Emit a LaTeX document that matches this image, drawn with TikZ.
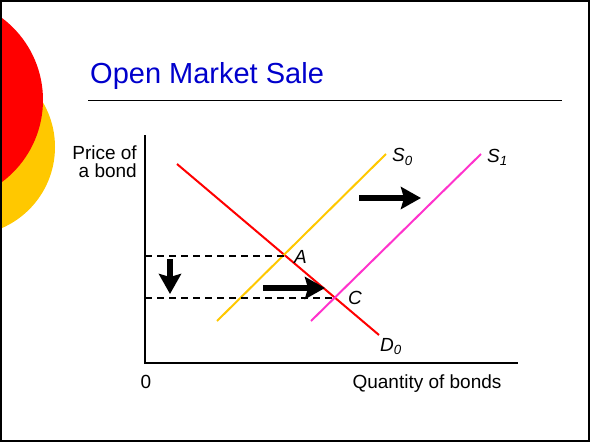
\documentclass[tikz,border=0pt]{standalone}
\usepackage{fontspec}
\setmainfont{Liberation Sans}
\usetikzlibrary{arrows.meta}
\definecolor{titleblue}{RGB}{0,0,204}
\definecolor{sred}{RGB}{255,0,0}
\definecolor{syellow}{RGB}{255,200,0}
\definecolor{smagenta}{RGB}{255,51,204}
\tikzset{
  lbl/.style={font=\fontsize{19}{19}\selectfont, inner sep=0pt},
  curvelabel/.style={font=\fontsize{19}{19}\selectfont\itshape, inner sep=0pt},
  curve/.style={line width=2pt},
  guide/.style={line width=1.2pt, dash pattern=on 7pt off 5pt},
  bigarrow/.style={line width=6.5pt, -{Stealth[length=20pt,width=22pt,inset=3pt]}},
  axis/.style={line width=1.4pt}
}
\begin{document}
\begin{tikzpicture}[x=1pt,y=-1pt]
\useasboundingbox (0,0) rectangle (590,442);
\begin{scope}
  \clip (0,0) rectangle (590,442);
  \fill[syellow] (-33.4,147) circle (88.4);
  \fill[sred] (-59.5,100) circle (102.5);
\end{scope}
\draw[line width=2.4pt] (1.2,1.2) rectangle (588.8,440.8);
% title
\node[anchor=base west, inner sep=0pt, text=titleblue, font=\fontsize{29}{29}\selectfont] (title) at (90,83) {Open Market Sale};
\coordinate (ulL) at (88,100);
\coordinate (ulR) at (562,100);
\draw[line width=1pt] (ulL) -- (ulR);
% axes
\coordinate (yTop) at (145,135);
\coordinate (orig) at (145,363);
\coordinate (xEnd) at (518,363);
\draw[axis] (yTop) -- (orig) -- (xEnd);
\node[lbl, anchor=base east, align=right] (plabel1) at (137,159) {Price of};
\node[lbl, anchor=base east] (plabel2) at (137,177) {a bond};
\node[lbl, anchor=base] (zero) at (146,388) {0};
\node[lbl, anchor=base] (qlabel) at (427,388) {Quantity of bonds};
% curves
\coordinate (d0a) at (177,164);
\coordinate (d0b) at (379,335);
\coordinate (s0a) at (217,321);
\coordinate (s0b) at (386,154);
\coordinate (s1a) at (311,321);
\coordinate (s1b) at (481,154);
\draw[curve, sred] (d0a) -- (d0b);
\draw[curve, syellow] (s0a) -- (s0b);
\draw[curve, smagenta] (s1a) -- (s1b);
\node[curvelabel, anchor=west] (S0) at (392,157) {S\textsubscript{0}};
\node[curvelabel, anchor=west] (S1) at (487,157) {S\textsubscript{1}};
\node[curvelabel, anchor=north] (D0) at (391,338) {D\textsubscript{0}};
% equilibria
\coordinate (A) at (284,256);
\coordinate (C) at (336,298);
\coordinate (yA) at (145,256);
\coordinate (yC) at (145,298);
\draw[guide] (yA) -- (A);
\draw[guide] (yC) -- (C);
\node[curvelabel, anchor=west] (Alab) at (294,257) {A};
\node[curvelabel, anchor=west] (Clab) at (348,298) {C};
% shift arrows
\coordinate (dnA) at (170,259);
\coordinate (dnB) at (170,294);
\draw[bigarrow] (dnA) -- (dnB);
\coordinate (r1A) at (359,198);
\coordinate (r1B) at (421,198);
\draw[bigarrow] (r1A) -- (r1B);
\coordinate (r2A) at (263,288);
\coordinate (r2B) at (325,288);
\draw[bigarrow] (r2A) -- (r2B);
\end{tikzpicture}
\end{document}
